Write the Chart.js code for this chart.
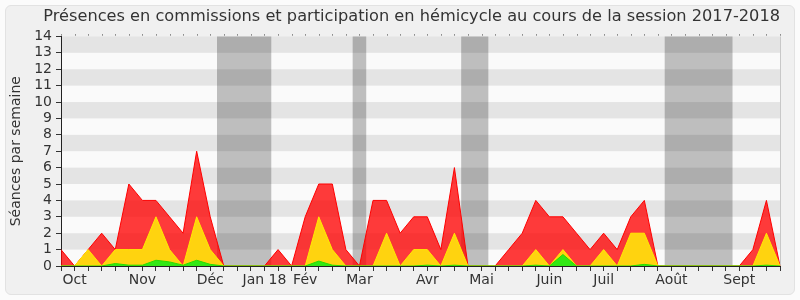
<!DOCTYPE html>
<html>
<head>
<meta charset="utf-8">
<script src="https://cdn.jsdelivr.net/npm/chart.js@4.4.1/dist/chart.umd.min.js"></script>
<style>
  body { margin: 0; background: #fbfbfb; }
  #wrap { position: relative; width: 800px; height: 300px; }
  #frame { position: absolute; left: 5px; top: 5px; width: 788px; height: 288px;
           background: #f0f0f0; border: 1px solid #e2e2e2; border-radius: 6px; }
  #chart { position: absolute; left: 0; top: 0; }
</style>
</head>
<body>
<div id="wrap">
  <div id="frame"></div>
  <canvas id="chart" width="800" height="300"></canvas>
</div>
<script>
// Weekly values, session 2017-2018 (54 weeks)
const presences = [1, 0, 1, 2, 1, 5, 4, 4, 3, 2, 7, 3, 0, 0, 0, 0, 1, 0, 3, 5,
                   5, 1, 0, 4, 4, 2, 3, 3, 1, 6, 0, 0, 0, 1, 2, 4, 3, 3, 2, 1,
                   2, 1, 3, 4, 0, 0, 0, 0, 0, 0, 0, 1, 4, 0];
const commissions = [0, 0, 1, 0, 1, 1, 1, 3, 1, 0, 3, 1, 0, 0, 0, 0, 0, 0, 0, 3,
                     1, 0, 0, 0, 2, 0, 1, 1, 0, 2, 0, 0, 0, 0, 0, 1, 0, 1, 0, 0,
                     1, 0, 2, 2, 0, 0, 0, 0, 0, 0, 0, 0, 2, 0];
const hemicycle = [0, 0, 0, 0, 0.15, 0.05, 0.05, 0.35, 0.25, 0.05, 0.35, 0.1, 0, 0, 0, 0, 0, 0, 0, 0.3,
                   0.05, 0, 0, 0, 0, 0, 0, 0.05, 0, 0.05, 0, 0, 0, 0, 0, 0.05, 0, 0.7, 0, 0,
                   0, 0, 0, 0.1, 0, 0, 0, 0, 0, 0, 0, 0, 0.05, 0];

// month labels and the week they sit on
const monthNames = ['Oct', 'Nov', 'Déc', 'Jan 18', 'Fév', 'Mar', 'Avr', 'Mai', 'Juin', 'Juil', 'Août', 'Sept'];
const monthWeeks = [1, 6, 11, 15, 18, 22, 27, 31, 36, 40, 45, 50];

// holiday weeks (first, last)
const vacations = [[12, 15], [22, 22], [30, 31], [45, 49]];

const labels = presences.map(() => '');
monthWeeks.forEach((w, i) => { labels[w] = monthNames[i]; });

const backdrop = {
    id: 'backdrop',
    beforeDraw(chart) {
        const ctx = chart.ctx;
        const a = chart.chartArea;
        const x = chart.scales.x, y = chart.scales.y;
        ctx.save();
        ctx.fillStyle = '#fafafa';
        ctx.fillRect(a.left, a.top, a.width, a.height);
        ctx.fillStyle = '#bebebe';
        vacations.forEach(([s, e]) => {
            const l = x.getPixelForValue(s - 0.5), r = x.getPixelForValue(e + 0.5);
            ctx.fillRect(l, a.top, r - l, a.height);
        });
        // alternate stripes
        ctx.fillStyle = 'rgba(0,0,0,0.085)';
        for (let v = 1; v < 14; v += 2) {
            const t = y.getPixelForValue(v + 1), b = y.getPixelForValue(v);
            ctx.fillRect(a.left, t, a.width, b - t);
        }
        // dotted ticks on top
        ctx.fillStyle = '#444';
        for (let i = 0; i < presences.length; i++) {
            ctx.fillRect(Math.round(x.getPixelForValue(i)), a.top - 2, 1, 1);
        }
        ctx.fillStyle = '#c8c8c8';
        ctx.fillRect(a.right, a.top, 1, a.height);
        ctx.restore();
    }
};

const font = 'DejaVu Sans';

new Chart(document.getElementById('chart'), {
    type: 'line',
    data: {
        labels: labels,
        datasets: [{
            label: 'Hémicycle',
            data: hemicycle,
            borderColor: 'rgb(40,220,0)',
            backgroundColor: 'rgb(50,232,20)',
            fill: 'origin'
        }, {
            label: 'Commissions',
            data: commissions,
            borderColor: '#ffea00',
            backgroundColor: '#ffd30f',
            fill: 'origin'
        }, {
            label: 'Présences',
            data: presences,
            borderColor: '#ff0000',
            backgroundColor: 'rgba(255,0,0,0.77)',
            fill: 'origin'
        }]
    },
    options: {
        responsive: false,
        animation: false,
        layout: { padding: { left: 4, right: 20, top: 0, bottom: 0 } },
        elements: {
            point: { radius: 0 },
            line: { borderWidth: 1, tension: 0 }
        },
        plugins: {
            legend: { display: false },
            tooltip: { enabled: false },
            title: {
                display: true,
                align: 'end',
                text: 'Présences en commissions et participation en hémicycle au cours de la session 2017-2018',
                color: '#333',
                font: { family: font, size: 16.2, weight: 'normal' },
                padding: { top: 7, bottom: 10 }
            }
        },
        scales: {
            x: {
                offset: false,
                grid: { drawOnChartArea: false, tickLength: 5, color: '#333' },
                border: { color: '#222' },
                ticks: {
                    autoSkip: false, maxRotation: 0, padding: 1,
                    color: '#333', font: { family: font, size: 14 }
                },
                afterFit: function(s) { s.height = 34; }
            },
            y: {
                min: 0,
                max: 14,
                grid: { drawOnChartArea: false, tickLength: 5, color: '#333' },
                border: { color: '#222' },
                ticks: {
                    stepSize: 1, autoSkip: false, padding: 4,
                    color: '#333', font: { family: font, size: 14 }
                },
                title: {
                    display: true,
                    text: 'Séances par semaine',
                    color: '#333',
                    font: { family: font, size: 14 },
                    padding: { top: 4, bottom: 0 }
                },
                afterFit: function(s) { s.width = 57; }
            }
        }
    },
    plugins: [backdrop]
});
</script>
</body>
</html>
